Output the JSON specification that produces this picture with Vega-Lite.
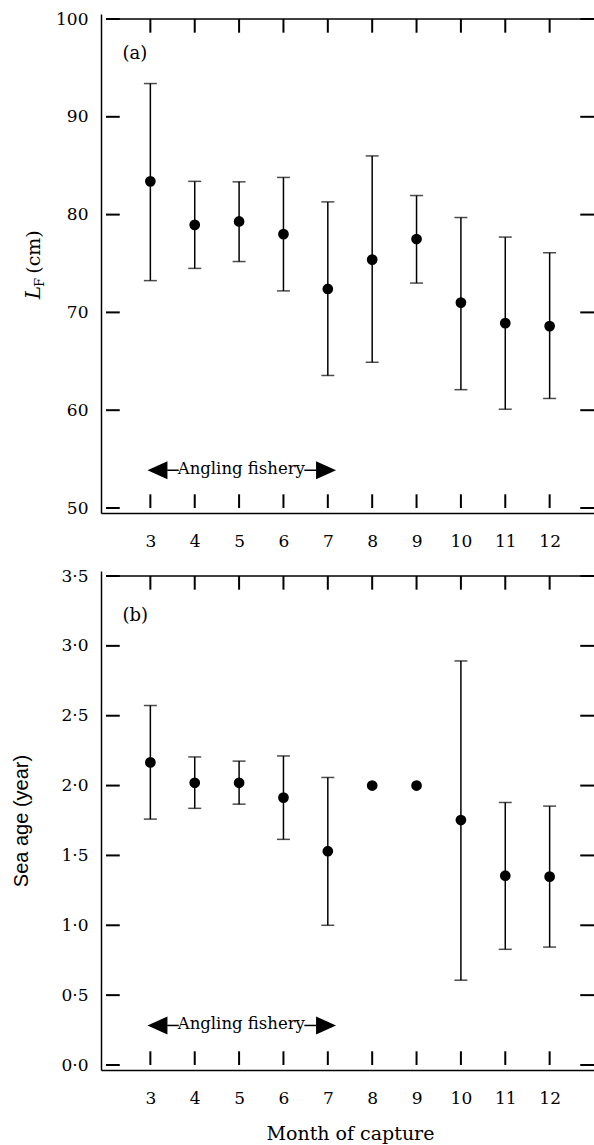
{
  "$schema": "https://vega.github.io/schema/vega-lite/v6.json",
  "autosize": {"type": "none"},
  "padding": {"left": 101, "top": 14, "right": 493, "bottom": 1131},
  "bounds": "flush",
  "spacing": 58,
  "background": "white",
  "config": {
    "view": {"stroke": null},
    "font": "DejaVu Serif",
    "axis": {
      "grid": false,
      "domainColor": "black",
      "domainWidth": 1.5,
      "ticks": false,
      "tickSize": 0,
      "labelFont": "DejaVu Serif",
      "labelFontSize": 17,
      "labelColor": "black",
      "labelFlush": false,
      "labelOverlap": false,
      "titleColor": "black",
      "titleFontWeight": "normal"
    },
    "text": {"color": "black", "font": "DejaVu Serif"}
  },
  "datasets": {
    "a": [
      {"month": 3, "mean": 83.4, "low": 73.25, "high": 93.4},
      {"month": 4, "mean": 78.95, "low": 74.5, "high": 83.4},
      {"month": 5, "mean": 79.3, "low": 75.2, "high": 83.35},
      {"month": 6, "mean": 78.0, "low": 72.2, "high": 83.8},
      {"month": 7, "mean": 72.4, "low": 63.55, "high": 81.3},
      {"month": 8, "mean": 75.4, "low": 64.9, "high": 86.0},
      {"month": 9, "mean": 77.5, "low": 73.0, "high": 81.95},
      {"month": 10, "mean": 71.0, "low": 62.1, "high": 79.7},
      {"month": 11, "mean": 68.9, "low": 60.1, "high": 77.7},
      {"month": 12, "mean": 68.6, "low": 61.2, "high": 76.1}
    ],
    "b": [
      {"month": 3, "mean": 2.166, "low": 1.76, "high": 2.573},
      {"month": 4, "mean": 2.02, "low": 1.837, "high": 2.205},
      {"month": 5, "mean": 2.02, "low": 1.867, "high": 2.175},
      {"month": 6, "mean": 1.914, "low": 1.615, "high": 2.212},
      {"month": 7, "mean": 1.53, "low": 1.0, "high": 2.058},
      {"month": 8, "mean": 2.0, "low": null, "high": null},
      {"month": 9, "mean": 2.0, "low": null, "high": null},
      {"month": 10, "mean": 1.753, "low": 0.607, "high": 2.892},
      {"month": 11, "mean": 1.355, "low": 0.828, "high": 1.879},
      {"month": 12, "mean": 1.348, "low": 0.844, "high": 1.853}
    ],
    "yticksA": [{"v": 50}, {"v": 60}, {"v": 70}, {"v": 80}, {"v": 90}, {"v": 100}],
    "yticksB": [{"v": 0}, {"v": 0.5}, {"v": 1}, {"v": 1.5}, {"v": 2}, {"v": 2.5}, {"v": 3}, {"v": 3.5}],
    "one": [{"k": 1}],
    "arrowsA": [
      {"x": 3.16, "y": 53.86, "side": "left"},
      {"x": 6.96, "y": 53.86, "side": "right"}
    ],
    "segA": [
      {"x": 3.38, "x2": 3.64, "y": 53.86},
      {"x": 6.47, "x2": 6.74, "y": 53.86}
    ],
    "arrowsB": [
      {"x": 3.16, "y": 0.283, "side": "left"},
      {"x": 6.96, "y": 0.283, "side": "right"}
    ],
    "segB": [
      {"x": 3.38, "x2": 3.64, "y": 0.283},
      {"x": 6.47, "x2": 6.74, "y": 0.283}
    ]
  },
  "vconcat": [
    {
      "width": 498,
      "height": 499,
      "data": {"name": "a"},
      "layer": [
        {
          "mark": {"type": "errorbar", "ticks": {"size": 13, "thickness": 1.5, "color": "black"}, "rule": {"strokeWidth": 1.5, "color": "black"}, "color": "black"},
          "encoding": {
            "x": {"field": "month", "type": "quantitative", "scale": {"domain": [2, 13], "nice": false, "zero": false},
                  "axis": {"orient": "bottom", "values": [3,4,5,6,7,8,9,10,11,12], "labelPadding": 20, "title": null}},
            "y": {"field": "low", "type": "quantitative", "scale": {"domain": [50, 100], "nice": false, "zero": false},
                  "axis": {"orient": "left", "values": [50,60,70,80,90,100], "labelPadding": 13, "title": null}},
            "y2": {"field": "high"}
          }
        },
        {
          "mark": {"type": "point", "filled": true, "shape": "circle", "size": 115, "color": "black", "opacity": 1},
          "encoding": {
            "x": {"field": "month", "type": "quantitative"},
            "y": {"field": "mean", "type": "quantitative"}
          }
        },
        {
          "mark": {"type": "bar", "orient": "vertical", "size": 2, "color": "black"},
          "encoding": {
            "x": {"field": "month", "type": "quantitative"},
            "y": {"datum": 50, "type": "quantitative"},
            "y2": {"datum": 51.4}
          }
        },
        {
          "mark": {"type": "bar", "orient": "vertical", "size": 2, "color": "black"},
          "encoding": {
            "x": {"field": "month", "type": "quantitative"},
            "y": {"datum": 98.6, "type": "quantitative"},
            "y2": {"datum": 100}
          }
        },
        {
          "data": {"name": "yticksA"},
          "mark": {"type": "bar", "orient": "horizontal", "size": 2, "color": "black"},
          "encoding": {
            "y": {"field": "v", "type": "quantitative"},
            "x": {"datum": 2, "type": "quantitative"},
            "x2": {"datum": 2.31}
          }
        },
        {
          "data": {"name": "yticksA"},
          "mark": {"type": "bar", "orient": "horizontal", "size": 2, "color": "black"},
          "encoding": {
            "y": {"field": "v", "type": "quantitative"},
            "x": {"datum": 12.69, "type": "quantitative"},
            "x2": {"datum": 13}
          }
        },
        {
          "data": {"name": "one"},
          "mark": {"type": "rule", "strokeWidth": 1.5, "color": "black"},
          "encoding": {
            "y": {"datum": 100, "type": "quantitative"},
            "x": {"datum": 2, "type": "quantitative"},
            "x2": {"datum": 13}
          }
        },
        {
          "data": {"name": "one"},
          "mark": {"type": "text", "text": "(a)", "fontSize": 18, "align": "left", "baseline": "middle"},
          "encoding": {
            "x": {"datum": 2.37, "type": "quantitative"},
            "y": {"datum": 96.42, "type": "quantitative"}
          }
        },
        {
          "data": {"name": "one"},
          "mark": {"type": "text", "text": "Angling fishery", "fontSize": 16.5, "align": "center", "baseline": "middle", "dy": -1},
          "encoding": {
            "x": {"datum": 5.05, "type": "quantitative"},
            "y": {"datum": 53.86, "type": "quantitative"}
          }
        },
        {
          "data": {"name": "arrowsA"},
          "mark": {"type": "point", "filled": true, "size": 400, "color": "black", "opacity": 1},
          "encoding": {
            "x": {"field": "x", "type": "quantitative"},
            "y": {"field": "y", "type": "quantitative"},
            "shape": {"field": "side", "type": "nominal", "scale": {"domain": ["left", "right"], "range": ["M-1,0L1,-0.9L1,0.9Z", "M1,0L-1,-0.9L-1,0.9Z"]}, "legend": null}
          }
        },
        {
          "data": {"name": "segA"},
          "mark": {"type": "rule", "strokeWidth": 1.5, "color": "black"},
          "encoding": {
            "x": {"field": "x", "type": "quantitative"},
            "x2": {"field": "x2"},
            "y": {"field": "y", "type": "quantitative"}
          }
        },
        {
          "data": {"name": "one"},
          "mark": {"type": "text", "text": "L", "fontSize": 20, "fontStyle": "italic", "angle": 270, "align": "left", "baseline": "alphabetic"},
          "encoding": {
            "x": {"datum": 0.511, "type": "quantitative"},
            "y": {"datum": 71.35, "type": "quantitative"}
          }
        },
        {
          "data": {"name": "one"},
          "mark": {"type": "text", "text": "F", "fontSize": 13, "angle": 270, "align": "left", "baseline": "alphabetic"},
          "encoding": {
            "x": {"datum": 0.61, "type": "quantitative"},
            "y": {"datum": 72.6, "type": "quantitative"}
          }
        },
        {
          "data": {"name": "one"},
          "mark": {"type": "text", "text": "(cm)", "fontSize": 19, "angle": 270, "align": "left", "baseline": "alphabetic"},
          "encoding": {
            "x": {"datum": 0.511, "type": "quantitative"},
            "y": {"datum": 73.95, "type": "quantitative"}
          }
        }
      ]
    },
    {
      "width": 498,
      "height": 499,
      "data": {"name": "b"},
      "layer": [
        {
          "transform": [{"filter": "isValid(datum.low)"}],
          "mark": {"type": "errorbar", "ticks": {"size": 13, "thickness": 1.5, "color": "black"}, "rule": {"strokeWidth": 1.5, "color": "black"}, "color": "black"},
          "encoding": {
            "x": {"field": "month", "type": "quantitative", "scale": {"domain": [2, 13], "nice": false, "zero": false},
                  "axis": {"orient": "bottom", "values": [3,4,5,6,7,8,9,10,11,12], "labelPadding": 20,
                           "title": "Month of capture", "titleFont": "DejaVu Serif", "titleFontSize": 19, "titleY": 69.5, "titleBaseline": "alphabetic"}},
            "y": {"field": "low", "type": "quantitative", "scale": {"domain": [0, 3.5], "nice": false, "zero": false},
                  "axis": {"orient": "left", "values": [0,0.5,1,1.5,2,2.5,3,3.5], "labelPadding": 13,
                           "labelExpr": "replace(format(datum.value, '.1f'), '.', '·')",
                           "title": "Sea age (year)", "titleFont": "Liberation Sans", "titleFontSize": 20, "titleX": -74, "titleY": 249.5, "titleAngle": 270, "titleAlign": "center", "titleBaseline": "alphabetic"}},
            "y2": {"field": "high"}
          }
        },
        {
          "mark": {"type": "point", "filled": true, "shape": "circle", "size": 115, "color": "black", "opacity": 1},
          "encoding": {
            "x": {"field": "month", "type": "quantitative"},
            "y": {"field": "mean", "type": "quantitative"}
          }
        },
        {
          "mark": {"type": "bar", "orient": "vertical", "size": 2, "color": "black"},
          "encoding": {
            "x": {"field": "month", "type": "quantitative"},
            "y": {"datum": 0, "type": "quantitative"},
            "y2": {"datum": 0.098}
          }
        },
        {
          "mark": {"type": "bar", "orient": "vertical", "size": 2, "color": "black"},
          "encoding": {
            "x": {"field": "month", "type": "quantitative"},
            "y": {"datum": 3.402, "type": "quantitative"},
            "y2": {"datum": 3.5}
          }
        },
        {
          "data": {"name": "yticksB"},
          "mark": {"type": "bar", "orient": "horizontal", "size": 2, "color": "black"},
          "encoding": {
            "y": {"field": "v", "type": "quantitative"},
            "x": {"datum": 2, "type": "quantitative"},
            "x2": {"datum": 2.31}
          }
        },
        {
          "data": {"name": "yticksB"},
          "mark": {"type": "bar", "orient": "horizontal", "size": 2, "color": "black"},
          "encoding": {
            "y": {"field": "v", "type": "quantitative"},
            "x": {"datum": 12.69, "type": "quantitative"},
            "x2": {"datum": 13}
          }
        },
        {
          "data": {"name": "one"},
          "mark": {"type": "rule", "strokeWidth": 1.5, "color": "black"},
          "encoding": {
            "y": {"datum": 3.5, "type": "quantitative"},
            "x": {"datum": 2, "type": "quantitative"},
            "x2": {"datum": 13}
          }
        },
        {
          "data": {"name": "one"},
          "mark": {"type": "text", "text": "(b)", "fontSize": 18, "align": "left", "baseline": "middle"},
          "encoding": {
            "x": {"datum": 2.37, "type": "quantitative"},
            "y": {"datum": 3.216, "type": "quantitative"}
          }
        },
        {
          "data": {"name": "one"},
          "mark": {"type": "text", "text": "Angling fishery", "fontSize": 16.5, "align": "center", "baseline": "middle", "dy": -1},
          "encoding": {
            "x": {"datum": 5.05, "type": "quantitative"},
            "y": {"datum": 0.283, "type": "quantitative"}
          }
        },
        {
          "data": {"name": "arrowsB"},
          "mark": {"type": "point", "filled": true, "size": 400, "color": "black", "opacity": 1},
          "encoding": {
            "x": {"field": "x", "type": "quantitative"},
            "y": {"field": "y", "type": "quantitative"},
            "shape": {"field": "side", "type": "nominal", "scale": {"domain": ["left", "right"], "range": ["M-1,0L1,-0.9L1,0.9Z", "M1,0L-1,-0.9L-1,0.9Z"]}, "legend": null}
          }
        },
        {
          "data": {"name": "segB"},
          "mark": {"type": "rule", "strokeWidth": 1.5, "color": "black"},
          "encoding": {
            "x": {"field": "x", "type": "quantitative"},
            "x2": {"field": "x2"},
            "y": {"field": "y", "type": "quantitative"}
          }
        }
      ]
    }
  ]
}
